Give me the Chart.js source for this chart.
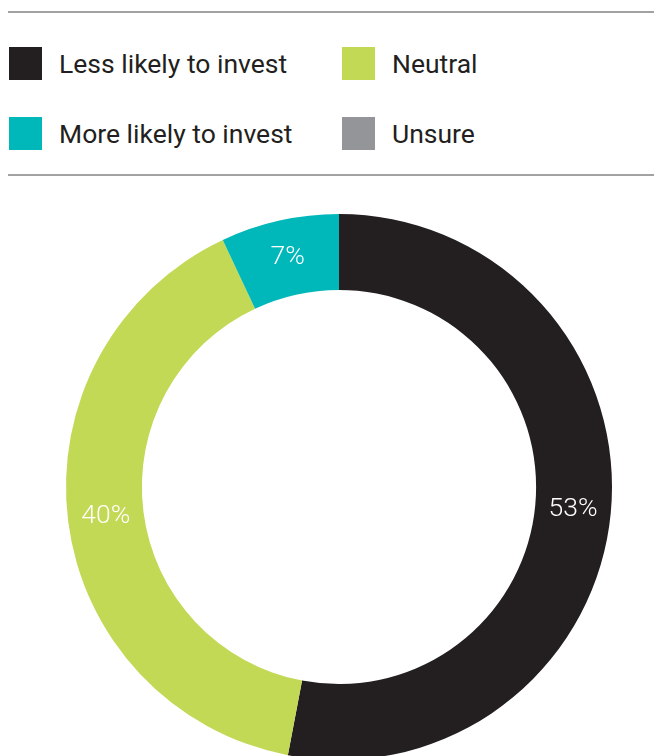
<!DOCTYPE html>
<html lang="en">
<head>
<meta charset="UTF-8">
<title>Investment intent</title>
<script src="https://cdn.jsdelivr.net/npm/chart.js"></script>
<style>
  html, body { margin: 0; padding: 0; background: #fff; overflow: hidden; }
  body { width: 654px; height: 756px; position: relative; font-family: Roboto, sans-serif; }
  .rule { position: absolute; left: 8px; right: 0; height: 2px; background: #a2a2a2; }
  #legend { position: absolute; left: 0; top: 0; width: 654px; }
  .item { position: absolute; height: 33px; display: flex; align-items: center; }
  .box { width: 33px; height: 33px; margin-right: 17px; flex: none; }
  .item span { font-size: 26.5px; color: #231f20; white-space: nowrap; }
  #wrap { position: absolute; left: 0; top: 214px; width: 654px; height: 546px; }
</style>
</head>
<body>
  <div class="rule" style="top:11px"></div>
  <div id="legend"></div>
  <div class="rule" style="top:174px"></div>
  <div id="wrap"><canvas id="donut"></canvas></div>

  <script>
    // data
    const labels = ['Less likely to invest', 'Neutral', 'More likely to invest', 'Unsure'];
    const values = [53, 40, 7, 0];
    const colors = ['#231f20', '#c2d955', '#00b8ba', '#939598'];

    // legend, two columns, order as in the original
    const legendOrder = [0, 1, 2, 3];
    const legendPos = [[9, 47], [342, 47], [9, 117], [342, 117]];
    const legend = document.getElementById('legend');
    legendOrder.forEach(function (idx, n) {
      const div = document.createElement('div');
      div.className = 'item';
      div.style.left = legendPos[n][0] + 'px';
      div.style.top = legendPos[n][1] + 'px';
      div.innerHTML = '<div class="box" style="background:' + colors[idx] + '"></div><span>' + labels[idx] + '</span>';
      legend.appendChild(div);
    });

    // percent labels in the middle of each ring segment
    const pctLabels = {
      id: 'pctLabels',
      afterDatasetsDraw(chart) {
        const c = chart.ctx;
        const meta = chart.getDatasetMeta(0);
        c.save();
        c.fillStyle = '#ffffff';
        c.font = '300 26.5px Roboto, sans-serif';
        c.textAlign = 'center';
        c.textBaseline = 'middle';
        meta.data.forEach(function (arc, i) {
          if (!values[i]) return;
          const p = arc.getCenterPoint();
          c.fillText(values[i] + '%', p.x, p.y);
        });
        c.restore();
      }
    };

    new Chart(document.getElementById('donut'), {
      type: 'doughnut',
      data: {
        labels: labels,
        datasets: [{
          data: values,
          backgroundColor: colors,
          borderWidth: 0
        }]
      },
      options: {
        responsive: true,
        maintainAspectRatio: false,
        animation: false,
        cutout: '72.2%',
        layout: { padding: { left: 24 } },
        plugins: {
          legend: { display: false },
          tooltip: { enabled: false }
        }
      },
      plugins: [pctLabels]
    });
  </script>
</body>
</html>
